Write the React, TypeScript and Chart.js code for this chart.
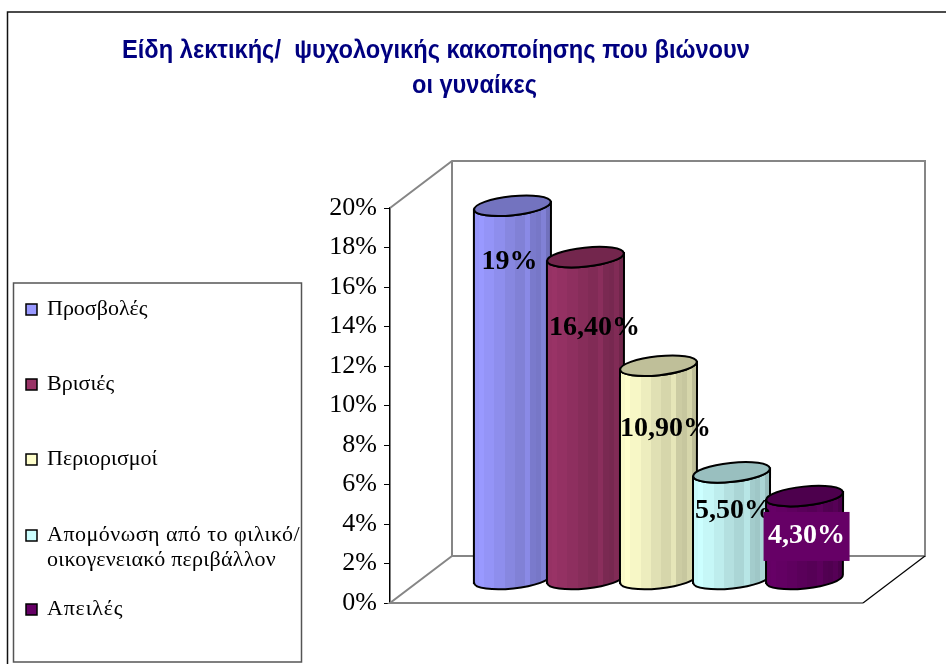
import React, { useEffect, useRef } from "react";
import { Chart, registerables } from "chart.js";

Chart.register(...registerables);

const categories = ["Είδη κακοποίησης"];
const seriesNames = [
  "Προσβολές",
  "Βρισιές",
  "Περιορισμοί",
  "Απομόνωση από το φιλικό/ οικογενειακό περιβάλλον",
  "Απειλές",
];
const legendLines = [
  ["Προσβολές"],
  ["Βρισιές"],
  ["Περιορισμοί"],
  ["Απομόνωση από το φιλικό/", "οικογενειακό περιβάλλον"],
  ["Απειλές"],
];
const seriesValues = [19, 16.4, 10.9, 5.5, 4.3];
const valueLabels = ["19%", "16,40%", "10,90%", "5,50%", "4,30%"];
const seriesColors = ["#9999FF", "#993366", "#FFFFCC", "#CCFFFF", "#660066"];
const titleLines = ["Είδη λεκτικής/  ψυχολογικής κακοποίησης που βιώνουν", "οι γυναίκες"];
const bandShades = [0.98, 1.0, 0.97, 0.97, 0.93, 0.93, 0.88, 0.88, 0.84, 0.84, 0.9, 0.8, 0.78, 0.84, 0.74];

const DEPTH_X = 62;
const DEPTH_Y = 47;

const shade = (hex: string, f: number) => {
  const n = parseInt(hex.slice(1), 16);
  const c = [(n >> 16) & 255, (n >> 8) & 255, n & 255].map((v) => Math.round(v * f));
  return `rgb(${c[0]},${c[1]},${c[2]})`;
};

const labelOffsets = [-2, 10, 8, 3, 3];
const labelYFactors = [0.153, 0.222, 0.302, 0.37, 0.49];
const legendSpacing = [["0px"], ["0px"], ["0px"], ["0.5px", "0.26px"], ["0.8px"]];

const scene = {
  id: "scene",
  beforeDatasetsDraw(chart: any) {
    const { ctx, chartArea: a, scales } = chart;
    const top = scales.y.getPixelForValue(20);
    const base = scales.y.getPixelForValue(0);
    const L = a.left, R = a.right;
    ctx.save();
    // frame
    ctx.strokeStyle = "#111";
    ctx.lineWidth = 1.5;
    ctx.beginPath();
    ctx.moveTo(946, 12);
    ctx.lineTo(7.5, 12);
    ctx.lineTo(7.5, 664);
    ctx.stroke();
    // 3D walls
    ctx.strokeStyle = "#868686";
    ctx.lineWidth = 2;
    ctx.beginPath();
    ctx.moveTo(L, top);
    ctx.lineTo(L + DEPTH_X, top - DEPTH_Y);
    ctx.lineTo(R + DEPTH_X, top - DEPTH_Y);
    ctx.lineTo(R + DEPTH_X, base - DEPTH_Y);
    ctx.lineTo(L + DEPTH_X, base - DEPTH_Y);
    ctx.lineTo(L + DEPTH_X, top - DEPTH_Y);
    ctx.moveTo(L + DEPTH_X, base - DEPTH_Y);
    ctx.lineTo(L, base);
    ctx.lineTo(R, base);
    ctx.stroke();
    ctx.strokeStyle = "#000";
    ctx.lineWidth = 1.2;
    ctx.beginPath();
    ctx.moveTo(R, base);
    ctx.lineTo(R + DEPTH_X, base - DEPTH_Y);
    ctx.stroke();

    // cylinders, left to right so later ones overlap earlier ones
    const tilt = -0.105;
    const ry = 9.5;
    const shiftX = DEPTH_X / 2 + 1;
    const shiftY = DEPTH_Y / 2;
    chart.data.datasets.forEach((ds: any, i: number) => {
      const el = chart.getDatasetMeta(i).data[0];
      if (!el) return;
      const { x, y, base: b, width: w } = el.getProps(["x", "y", "base", "width"], true);
      const cx = x + shiftX;
      const yTop = y - shiftY + 1.5;
      const yBot = b - shiftY;
      const rx = w / 2;
      const dyEdge = rx * Math.sin(-tilt);
      const color = seriesColors[i];
      const grad = ctx.createLinearGradient(cx - rx, 0, cx + rx, 0);
      bandShades.forEach((f, k) => {
        grad.addColorStop(k / bandShades.length, shade(color, f));
        grad.addColorStop((k + 1) / bandShades.length, shade(color, f));
      });
      ctx.beginPath();
      ctx.moveTo(cx - rx, yTop + dyEdge);
      ctx.lineTo(cx - rx, yBot + dyEdge);
      ctx.ellipse(cx, yBot, rx, ry, tilt, Math.PI, 0, true);
      ctx.lineTo(cx + rx, yTop - dyEdge);
      ctx.ellipse(cx, yTop, rx, ry, tilt, 0, Math.PI, false);
      ctx.closePath();
      ctx.fillStyle = grad;
      ctx.fill();
      ctx.strokeStyle = "#000";
      ctx.lineWidth = 2;
      ctx.stroke();
      ctx.beginPath();
      ctx.ellipse(cx, yTop, rx, ry, tilt, 0, Math.PI * 2);
      ctx.fillStyle = shade(color, 0.75);
      ctx.fill();
      ctx.stroke();
    });

    // value labels
    ctx.textBaseline = "middle";
    ctx.textAlign = "center";
    ctx.font = "bold 28px 'Liberation Serif'";
    chart.data.datasets.forEach((ds: any, i: number) => {
      const el = chart.getDatasetMeta(i).data[0];
      if (!el) return;
      const { x, y, base: b } = el.getProps(["x", "y", "base"], true);
      const lx = x + DEPTH_X / 2 + labelOffsets[i];
      const ly = y - shiftY + (b - y) * labelYFactors[i];
      const text = valueLabels[i];
      if (i === 4) {
        ctx.fillStyle = seriesColors[4];
        ctx.fillRect(lx - 43, ly - 24, 86, 49);
        ctx.fillStyle = "#fff";
      } else {
        ctx.fillStyle = "#000";
      }
      ctx.fillText(text, lx, ly);
    });

    // title
    ctx.fillStyle = "#000080";
    ctx.textAlign = "left";
    ctx.font = "bold 25px 'Liberation Sans'";
    ctx.fillText(titleLines[0], 122, 51, 628);
    ctx.fillText(titleLines[1], 412, 86, 125);

    // legend
    ctx.strokeStyle = "#555";
    ctx.lineWidth = 1.5;
    ctx.strokeRect(13.5, 283, 288, 379);
    ctx.font = "22px 'Liberation Serif'";
    const rowY = [309, 384, 459, 535, 609];
    legendLines.forEach((lines, i) => {
      ctx.fillStyle = seriesColors[i];
      ctx.fillRect(26, rowY[i] - 5, 11, 11);
      ctx.strokeStyle = "#000";
      ctx.lineWidth = 1.5;
      ctx.strokeRect(26, rowY[i] - 5, 11, 11);
      ctx.fillStyle = "#000";
      lines.forEach((t, k) => {
        (ctx as any).letterSpacing = legendSpacing[i][k];
        ctx.fillText(t, 47, rowY[i] + k * 25);
      });
    });
    (ctx as any).letterSpacing = "0px";
    ctx.restore();
    return false;
  },
};

export default function App() {
  const ref = useRef<HTMLCanvasElement>(null);
  useEffect(() => {
    const chart = new Chart(ref.current as HTMLCanvasElement, {
      type: "bar",
      data: {
        labels: categories,
        datasets: seriesNames.map((name, i) => ({
          label: name,
          data: [seriesValues[i]],
          backgroundColor: seriesColors[i],
        })),
      },
      plugins: [scene],
      options: {
        animation: false,
        responsive: false,
        layout: { padding: { left: 0, right: 83, top: 208, bottom: 61 } },
        datasets: { bar: { categoryPercentage: 0.772, barPercentage: 1.055 } },
        plugins: { legend: { display: false }, title: { display: false }, tooltip: { enabled: false } },
        scales: {
          x: { display: false },
          y: {
            min: 0,
            max: 20,
            afterFit: (s: any) => { s.width = 390; },
            border: { color: "#000", width: 1.5 },
            grid: { drawOnChartArea: false, drawTicks: true, tickLength: 6, color: "#000" },
            ticks: {
              stepSize: 2,
              color: "#000",
              padding: 7,
              font: { family: "'Liberation Serif'", size: 26 },
              callback: (v: any) => `${v}%`,
            },
          },
        },
      } as any,
    });
    return () => chart.destroy();
  }, []);
  return (
    <div style={{ position: "absolute", left: 0, top: 0, width: 946, height: 664, background: "#fff" }}>
      <canvas ref={ref} width={946} height={664} style={{ display: "block" }} />
    </div>
  );
}
